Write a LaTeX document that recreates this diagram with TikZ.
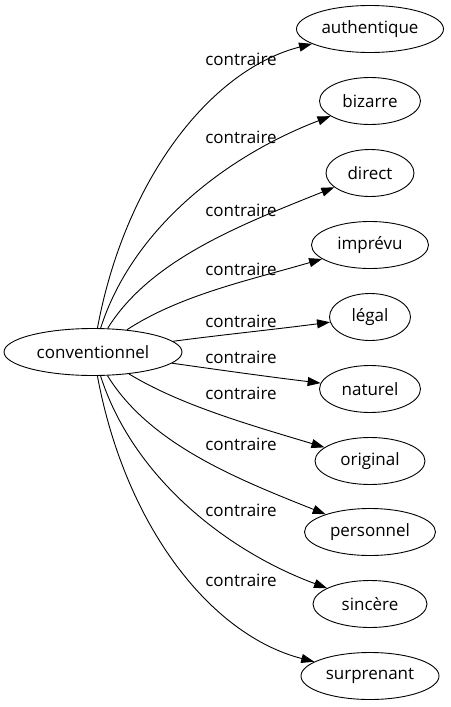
\documentclass[tikz,border=0pt]{standalone}
\usepackage{fontspec}
\setmainfont{Open Sans}
\usetikzlibrary{shapes.geometric,arrows.meta}
\begin{document}
\begin{tikzpicture}[x=1pt,y=-1pt,
  wnode/.style={draw=black, line width=0.9pt, ellipse, inner sep=0pt, minimum height=47pt, font=\fontsize{17}{20}\selectfont},
  elabel/.style={inner sep=0pt, font=\fontsize{17}{20}\selectfont},
  rel/.style={draw=black, line width=0.9pt, -{Triangle[length=13pt,width=9pt]}}]
\useasboundingbox (0,0) rectangle (450,707);
\node[wnode, minimum width=178pt] (src) at (93,352) {conventionnel};
\node[wnode, minimum width=147pt] (t1) at (370,29) {authentique};
\node[wnode, minimum width=101pt] (t2) at (370,101) {bizarre};
\node[wnode, minimum width=88pt] (t3) at (370,173) {direct};
\node[wnode, minimum width=117pt] (t4) at (370,245) {imprévu};
\node[wnode, minimum width=81pt] (t5) at (370,317) {légal};
\node[wnode, minimum width=101pt] (t6) at (370,389) {naturel};
\node[wnode, minimum width=110pt] (t7) at (370,461) {original};
\node[wnode, minimum width=131pt] (t8) at (370,532) {personnel};
\node[wnode, minimum width=114pt] (t9) at (370,604) {sincère};
\node[wnode, minimum width=138pt] (t10) at (370,676) {surprenant};
\node[elabel] (l1) at (241,59) {contraire};
\node[elabel] (l2) at (241,137) {contraire};
\node[elabel] (l3) at (241,210) {contraire};
\node[elabel] (l4) at (241,269) {contraire};
\node[elabel] (l5) at (241,321) {contraire};
\node[elabel] (l6) at (241,357) {contraire};
\node[elabel] (l7) at (241,393) {contraire};
\node[elabel] (l8) at (241,444) {contraire};
\node[elabel] (l9) at (241,510) {contraire};
\node[elabel] (l10) at (241,580) {contraire};
\draw[rel] (src) .. controls (125,180) and (210,70) .. (t1);
\draw[rel] (src) .. controls (132,230) and (224,157) .. (t2);
\draw[rel] (src) .. controls (150,260) and (240,225) .. (t3);
\draw[rel] (src) .. controls (180,295) and (250,280) .. (t4);
\draw[rel] (src) .. controls (220,335) and (270,330) .. (t5);
\draw[rel] (src) .. controls (220,370) and (270,377) .. (t6);
\draw[rel] (src) .. controls (180,405) and (250,425) .. (t7);
\draw[rel] (src) .. controls (150,445) and (240,480) .. (t8);
\draw[rel] (src) .. controls (132,475) and (224,550) .. (t9);
\draw[rel] (src) .. controls (125,525) and (210,635) .. (t10);
\end{tikzpicture}
\end{document}
